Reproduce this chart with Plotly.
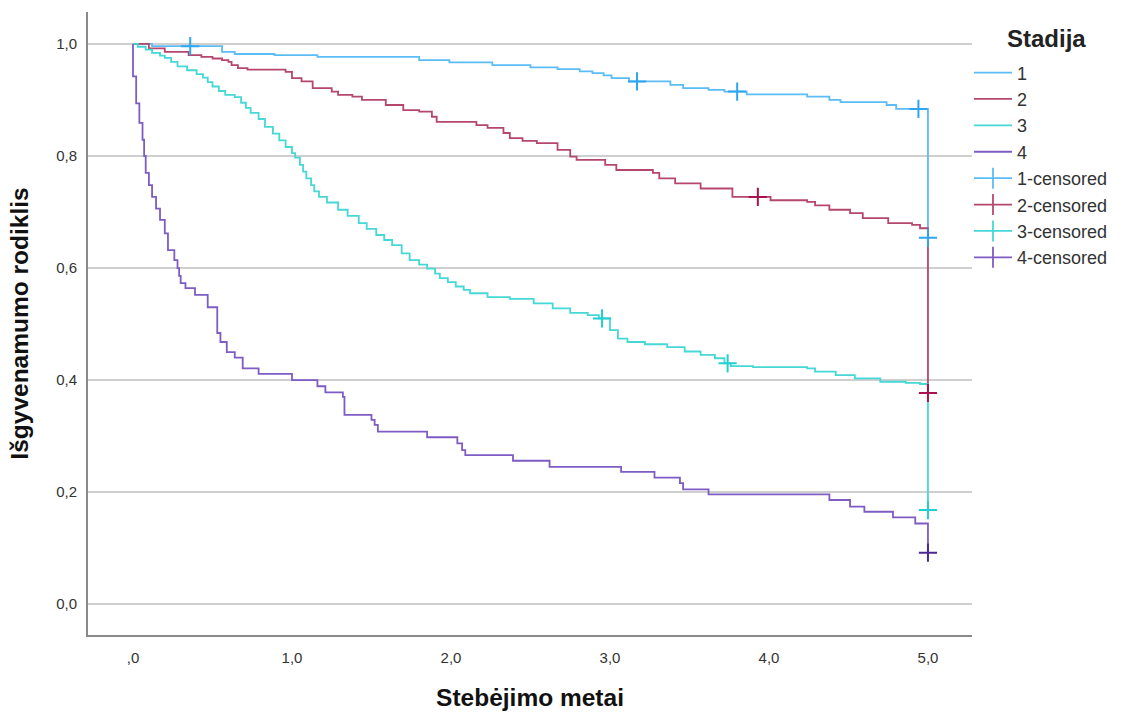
import plotly.graph_objects as go

# ---- data ----
stage_names = ["1", "2", "3", "4"]
censor_names = ["1-censored", "2-censored", "3-censored", "4-censored"]

t1 = [0, 0.12, 0.56, 0.64, 0.89, 1.16, 1.80, 1.99, 2.26, 2.50, 2.67, 2.81, 2.89, 2.96, 3.01, 3.12,
      3.38, 3.46, 3.62, 3.72, 3.86, 4.24, 4.38, 4.45, 4.74, 4.80, 5.00]
s1 = [1.0, 0.996, 0.986, 0.982, 0.980, 0.977, 0.971, 0.967, 0.962, 0.958, 0.955, 0.951, 0.948, 0.944, 0.939, 0.933,
      0.927, 0.921, 0.918, 0.915, 0.910, 0.906, 0.900, 0.896, 0.891, 0.884, 0.654]

t2 = [0, 0.10, 0.20, 0.35, 0.43, 0.50, 0.56, 0.60, 0.62, 0.66, 0.72, 0.96, 1.00, 1.06, 1.13, 1.25, 1.29,
      1.38, 1.44, 1.59, 1.70, 1.80, 1.88, 1.91, 2.16, 2.23, 2.33, 2.37, 2.45, 2.54, 2.67, 2.75, 2.79,
      2.97, 3.04, 3.27, 3.31, 3.41, 3.57, 3.77, 4.01, 4.24, 4.29, 4.38, 4.51, 4.59, 4.75, 4.90, 4.95, 5.00]
s2 = [1.0, 0.992, 0.986, 0.980, 0.977, 0.974, 0.971, 0.968, 0.962, 0.957, 0.954, 0.950, 0.939, 0.933, 0.921, 0.915, 0.909,
      0.906, 0.900, 0.891, 0.882, 0.879, 0.870, 0.861, 0.855, 0.850, 0.841, 0.832, 0.827, 0.823, 0.811, 0.799, 0.793,
      0.784, 0.775, 0.770, 0.760, 0.751, 0.742, 0.727, 0.721, 0.718, 0.712, 0.704, 0.698, 0.689, 0.680, 0.677, 0.671, 0.377]

t3 = [0, 0.03, 0.08, 0.12, 0.17, 0.20, 0.24, 0.28, 0.34, 0.40, 0.44, 0.47, 0.50, 0.54, 0.58, 0.64,
      0.68, 0.71, 0.74, 0.79, 0.83, 0.88, 0.92, 0.96, 1.00, 1.02, 1.05, 1.07, 1.09, 1.12, 1.14, 1.17,
      1.22, 1.29, 1.35, 1.42, 1.47, 1.53, 1.58, 1.63, 1.69, 1.74, 1.80, 1.85, 1.90, 1.93, 1.98, 2.03,
      2.08, 2.12, 2.23, 2.37, 2.52, 2.64, 2.75, 2.86, 2.93, 3.00,
      3.05, 3.11, 3.22, 3.36, 3.47, 3.57, 3.66, 3.72, 3.76, 3.90, 4.24, 4.29, 4.42, 4.54, 4.70, 4.86,
      4.95, 5.00]
s3 = [1.0, 0.995, 0.990, 0.984, 0.979, 0.975, 0.968, 0.960, 0.953, 0.946, 0.940, 0.932, 0.924, 0.916, 0.909, 0.905,
      0.895, 0.886, 0.877, 0.866, 0.852, 0.840, 0.828, 0.816, 0.805, 0.797, 0.784, 0.772, 0.760, 0.748, 0.737, 0.727,
      0.717, 0.704, 0.693, 0.680, 0.670, 0.659, 0.650, 0.641, 0.626, 0.614, 0.606, 0.599, 0.590, 0.582, 0.575, 0.567,
      0.561, 0.555, 0.548, 0.545, 0.537, 0.528, 0.520, 0.516, 0.510, 0.489,
      0.474, 0.468, 0.464, 0.459, 0.451, 0.445, 0.439, 0.430, 0.425, 0.423, 0.421, 0.415, 0.409, 0.403, 0.397, 0.395,
      0.393, 0.168]

t4 = [0, 0, 0.02, 0.04, 0.06, 0.07, 0.08, 0.10, 0.12, 0.145, 0.17, 0.20, 0.22, 0.26, 0.28, 0.29, 0.30,
      0.33, 0.39, 0.47, 0.53, 0.55, 0.59, 0.64, 0.69, 0.79, 1.00, 1.16, 1.21, 1.32, 1.33, 1.50, 1.52,
      1.54, 1.85, 2.04, 2.07, 2.09, 2.39, 2.62, 3.07, 3.28, 3.44, 3.46, 3.62, 4.38, 4.51, 4.60, 4.78,
      4.92, 5.00]
s4 = [1.0, 0.942, 0.894, 0.859, 0.829, 0.800, 0.770, 0.748, 0.727, 0.706, 0.686, 0.662, 0.632, 0.614, 0.600, 0.586, 0.573,
      0.564, 0.552, 0.530, 0.484, 0.468, 0.450, 0.440, 0.421, 0.411, 0.400, 0.389, 0.378, 0.370, 0.338, 0.329, 0.320,
      0.308, 0.298, 0.287, 0.275, 0.266, 0.256, 0.245, 0.236, 0.226, 0.216, 0.205, 0.196, 0.186, 0.174, 0.165, 0.155,
      0.144, 0.092]

c1_t = [0.36, 3.17, 3.80, 4.94, 5.00]
c1_s = [0.996, 0.933, 0.915, 0.884, 0.654]
c2_t = [3.93, 5.00]
c2_s = [0.727, 0.377]
c3_t = [2.95, 3.74, 5.00]
c3_s = [0.510, 0.430, 0.168]
c4_t = [5.00]
c4_s = [0.092]

x_tickvals = [0, 1, 2, 3, 4, 5]
x_ticktext = [",0", "1,0", "2,0", "3,0", "4,0", "5,0"]
y_tickvals = [0, 0.2, 0.4, 0.6, 0.8, 1.0]
y_ticktext = ["0,0", "0,2", "0,4", "0,6", "0,8", "1,0"]

legend_title = "Stadija"
x_title = "Stebėjimo metai"
y_title = "Išgyvenamumo rodiklis"

# ---- styles ----
line_colors = ["#5bbcf6", "#b5476f", "#45d8d6", "#7e5cc4"]
cross_colors = ["#2ea6f0", "#a8134f", "#22cfd0", "#4a2896"]
base_font = "Liberation Sans, Arial, sans-serif"

fig = go.Figure()
curves = [(t1, s1), (t2, s2), (t3, s3), (t4, s4)]
for i, (tt, ss) in enumerate(curves):
    fig.add_trace(go.Scatter(x=tt, y=ss, mode="lines", line=dict(color=line_colors[i], width=1.8, shape="hv"),
                             name=stage_names[i], showlegend=True))

censors = [(c1_t, c1_s), (c2_t, c2_s), (c3_t, c3_s), (c4_t, c4_s)]
for i, (tt, ss) in enumerate(censors):
    fig.add_trace(go.Scatter(x=tt, y=ss, mode="markers",
                             marker=dict(symbol="cross-thin", size=13, line=dict(color=cross_colors[i], width=2)),
                             name=censor_names[i], showlegend=False))
for i in range(4):
    fig.add_trace(go.Scatter(x=[None], y=[None], mode="lines+markers",
                             line=dict(color=line_colors[i], width=1.8),
                             marker=dict(symbol="line-ns", size=15, line=dict(color=line_colors[i], width=1.8)),
                             name=censor_names[i], showlegend=True))

fig.update_layout(
    width=1129, height=714,
    margin=dict(l=88, r=157, t=12, b=79, autoexpand=False),
    paper_bgcolor="white", plot_bgcolor="white",
    font=dict(family=base_font, color="#222"),
    showlegend=True,
    legend=dict(
        x=0.9966, xanchor="left", y=0.932, yanchor="top",
        font=dict(size=18, color="#333"),
        itemwidth=38, traceorder="normal",
        bgcolor="rgba(0,0,0,0)",
    ),
    annotations=[dict(text="<b>" + legend_title + "</b>", xref="paper", yref="paper",
                      x=1.0373, y=0.958, xanchor="left", yanchor="middle", showarrow=False,
                      font=dict(size=24, color="#222"))],
)
fig.update_xaxes(
    range=[-0.283, 5.277], tickvals=x_tickvals, ticktext=x_ticktext, automargin=False,
    showgrid=False, zeroline=False, showline=True, linecolor="#8a8a8a", linewidth=2,
    ticks="", ticklabelstandoff=8,
    tickfont=dict(size=15, color="#333"),
    title=dict(text="<b>" + x_title + "</b>", standoff=24,
               font=dict(size=24.5, color="#111")),
)
fig.update_yaxes(
    range=[-0.055, 1.057], tickvals=y_tickvals, ticktext=y_ticktext, automargin=False,
    showgrid=True, gridcolor="#cfcfcf", gridwidth=2, zeroline=False,
    showline=True, linecolor="#8a8a8a", linewidth=2,
    ticks="", ticklabelstandoff=6,
    tickfont=dict(size=15, color="#333"),
    title=dict(text="<b>" + y_title + "</b>", standoff=21,
               font=dict(size=24.5, color="#111")),
)

fig.write_html("out.html", config={"displayModeBar": False},
               post_script="document.body.style.margin='0px';")
